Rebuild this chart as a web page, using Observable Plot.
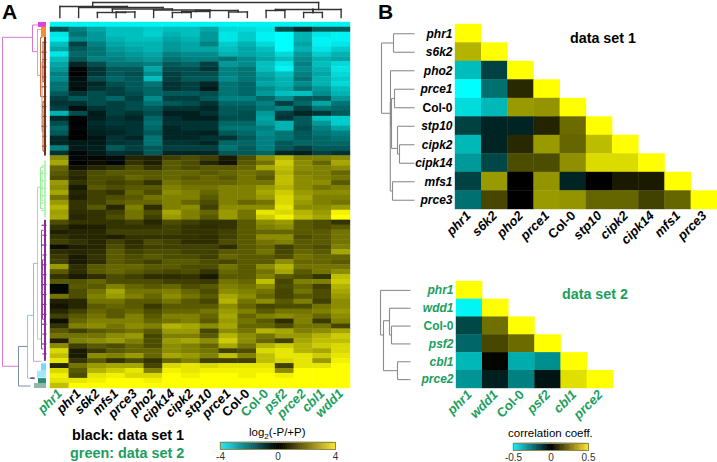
<!DOCTYPE html>
<html><head><meta charset="utf-8">
<script src="https://cdn.jsdelivr.net/npm/d3@7"></script>
<script src="https://cdn.jsdelivr.net/npm/@observablehq/plot@0.6"></script>
<style>
html,body{margin:0;padding:0;background:#fff}
#c{position:relative;width:717px;height:462px;overflow:hidden;font-family:"Liberation Sans",Arial,sans-serif}
.t{position:absolute;white-space:nowrap;font-family:"Liberation Sans",Arial,sans-serif;line-height:1}
.t sub{font-size:.7em;line-height:0}
.soft g[aria-label="cell"]{filter:blur(.55px)}
</style></head><body><div id="c"></div>
<script>
const GREEN="#1b9e5e", DARK="#333";
// ---------- Panel A ----------
const heatLabels=["phr1","phr1","s6k2","mfs1","prce3","pho2","cipk14","cipk2","stp10","prce1","Col-0","Col-0","psf2","prce2","cbl1","wdd1"];
// values are log2(-P/+P) x 10, one array per band of genes, top to bottom
const heatRows=[
[-38,-38,-38,-38,-38,-38,-38,-38,-38,-38,-38,-38,-38,-38,-38,-38],
[-12,-20,-26,-30,-30,-32,-30,-30,-26,-34,-34,-36,-12,-6,-14,-14],
[-36,-18,-24,-30,-30,-33,-28,-30,-24,-36,-32,-38,-40,-28,-36,-38],
[-38,-22,-24,-28,-30,-30,-26,-28,-24,-36,-32,-38,-40,-28,-38,-38],
[-30,-10,-20,-26,-28,-28,-24,-26,-20,-32,-28,-34,-40,-26,-38,-36],
[-26,-14,-18,-24,-26,-28,-24,-26,-26,-30,-26,-30,-40,-28,-36,-32],
[-36,-16,-18,-22,-24,-26,-20,-22,-22,-28,-26,-28,-34,-24,-32,-28],
[-30,-14,-20,-20,-22,-24,-18,-20,-20,-18,-22,-26,-30,-22,-28,-26],
[-26,-6,-12,-18,-18,-20,-14,-16,-10,-24,-22,-30,-36,-20,-30,-34],
[-24,-1,-8,-14,-14,-26,-12,-12,-8,-20,-18,-30,-38,-22,-28,-36],
[-20,0,-8,-14,-12,-22,-10,-12,-12,-20,-18,-26,-30,-20,-26,-34],
[-22,-2,-12,-16,-14,-30,-10,-14,-14,-22,-18,-24,-28,-18,-28,-32],
[-18,-3,-6,-12,-14,-18,-8,-10,-6,-18,-16,-26,-28,-22,-28,-34],
[-18,-2,-8,-10,-14,-16,-8,-10,-4,-18,-16,-22,-26,-18,-24,-30],
[-14,-8,-12,-10,-12,-16,-14,-14,-12,-18,-16,-24,-30,-30,-22,-28],
[-10,-14,-12,-16,-10,-22,-10,-10,-14,-20,-20,-16,-22,-14,-14,-24],
[-8,-8,-12,-10,-12,-18,-14,-12,-8,-16,-16,-20,-10,-16,-26,-18],
[-10,-2,-8,-10,-12,-14,-8,-8,-6,-14,-14,-18,-20,-10,-18,-16],
[-28,-12,-4,-10,-8,-12,-5,-5,-8,-14,-12,-24,-10,-6,-8,-14],
[-6,-1,-5,-8,-6,-16,-7,-5,-5,-12,-12,-26,-8,-14,-30,-32],
[-12,0,-7,-9,-8,-18,-8,-8,-8,-16,-16,-24,-28,-14,-24,-32],
[-16,-1,-6,-7,-8,-16,-6,-8,-8,-18,-18,-20,-28,-12,-20,-26],
[-14,0,-5,-6,-8,-14,-6,-6,-5,-14,-16,-22,-18,-14,-18,-20],
[-6,0,-3,-8,-6,-18,-6,-6,-8,-8,-14,-20,-18,-14,-16,-18],
[-6,-4,-4,-8,-9,-18,-8,-8,-6,-16,-16,-20,-14,-16,-16,-16],
[-20,-4,-5,-14,-10,-14,-10,-10,-10,-18,-14,-20,-14,-10,-14,-14],
[-8,-1,-4,-8,-7,-14,-6,-6,-6,-14,-14,-16,-6,-5,-10,-8],
[22,-1,1,-2,6,5,10,12,10,4,12,22,28,20,20,22],
[26,0,2,-1,8,5,14,12,6,3,14,18,32,22,16,26],
[16,3,6,8,12,8,14,12,14,14,16,26,30,22,20,22],
[14,7,12,14,14,14,16,16,14,16,18,16,28,20,20,16],
[12,6,12,12,16,14,16,14,16,14,18,14,30,22,20,18],
[24,8,12,10,12,8,18,16,16,16,18,18,30,22,22,14],
[22,4,14,12,14,14,20,18,18,20,20,24,28,22,18,20],
[26,6,10,8,16,12,22,20,16,20,20,26,32,24,22,22],
[18,5,10,12,14,18,20,20,14,20,20,24,34,26,20,20],
[24,8,10,14,16,16,20,16,12,20,16,18,34,24,20,18],
[28,8,14,6,20,7,20,22,10,22,22,22,36,22,22,24],
[25,7,8,10,18,12,26,20,16,24,18,36,34,28,24,38],
[26,6,8,12,18,10,24,20,14,24,18,32,38,30,26,40],
[12,8,8,8,10,6,12,10,8,8,14,22,24,14,12,8],
[8,4,5,8,8,8,10,8,7,8,14,20,22,14,12,14],
[5,6,6,10,10,10,10,8,8,10,14,16,16,14,14,18],
[8,6,6,5,8,8,8,8,7,10,14,22,22,12,14,18],
[10,8,6,10,7,12,10,7,7,12,14,18,20,14,14,18],
[2,5,6,12,8,10,10,10,10,7,14,16,10,14,12,20],
[7,6,7,14,10,12,12,10,10,14,14,18,11,16,14,26],
[9,4,8,14,12,14,12,12,10,16,14,14,12,18,16,16],
[10,4,7,14,12,10,14,14,12,11,14,14,22,16,16,14],
[24,7,14,16,16,14,14,12,12,18,14,22,28,18,18,18],
[14,7,14,16,14,12,11,12,8,16,14,18,26,14,18,22],
[8,4,7,12,10,7,7,8,4,14,14,20,14,12,8,30],
[14,13,16,12,12,12,10,10,9,18,16,30,11,20,20,32],
[-1,14,14,20,16,14,16,12,14,20,18,22,12,16,10,28],
[1,12,18,26,18,18,20,16,12,22,20,18,11,18,12,26],
[18,12,20,24,20,16,22,18,14,26,22,16,11,14,12,24],
[5,6,18,18,14,14,18,14,11,28,18,22,14,20,10,22],
[3,6,14,16,14,9,14,14,14,22,16,11,12,12,18,22],
[6,10,16,14,16,12,16,16,18,24,20,14,18,18,20,24],
[10,14,18,14,20,14,20,20,16,26,16,20,22,20,16,22],
[2,16,20,20,20,16,18,20,14,24,18,14,7,20,9,20],
[8,20,22,18,22,20,28,26,22,26,16,16,12,18,18,11],
[14,10,14,16,18,14,24,24,11,22,18,28,26,20,22,26],
[18,18,18,22,24,11,20,20,14,28,22,18,24,24,28,32],
[5,20,22,24,20,12,24,26,22,32,22,16,10,26,30,30],
[22,10,14,12,16,12,22,20,16,26,18,28,32,28,32,34],
[34,4,9,14,16,16,22,20,18,10,12,34,36,28,26,34],
[30,4,22,20,24,16,26,24,20,30,20,30,36,36,32,36],
[36,8,14,8,12,8,16,20,10,10,10,30,34,36,24,38],
[6,18,24,26,26,11,34,36,34,36,36,36,10,36,36,40],
[34,14,28,32,36,20,38,36,38,38,38,38,22,40,40,40],
[38,12,36,38,34,34,40,38,40,40,38,40,38,40,40,40],
[36,36,38,40,40,38,40,40,40,40,40,40,40,40,40,40],
[30,40,40,40,40,40,40,40,40,40,40,40,40,40,40,40]
];
// Clades: [parent distance, child A distance, child A position, child B distance, child B position]
const topClades=[
[15,1.75,11,13.8,8],[11,0,0,3.6,10],[10,1,0,5.5,9],[8.5,2.8,5,6,7.5],[5,2,0,3.5,5.5],[5.5,3,0,4,0],
[7.5,5,0,8,7],[7,7.25,6,9.5,5.5],[6,6.5,5,8,0],[5,6,0,7,0],[5.5,9,0,10,0],
[8,11.5,7,15,0],[8,13.5,5,13.5,5],[5,13,0,14,0],[7,11,0,12,0]];
const leftClades=[
["#d878d0",2,32,3,18,69.5],["#d878d0",32,40,0.5,37,5.9],
["#e8a868",37,42,1.4,40,10.7],["#c07048",40,42,3,41.5,15],["#c89078",41.5,43,8,43,22],["#a0522d",42.5,44,4,44,12],["#a0522d",42.5,44,16,44,26],
["#a8dca8",37,40,33.3,41,64],["#98ee98",40,43,29.3,43,37.6],["#98ee98",41.5,43,30,43,36],
["#9a3fb0",41,43,42,43,66],["#9a3fb0",42,44,48,44,60],["#b9a8c8",33,37,48.7,41,68.5],
["#78d4e4",27,33,59.2,34,71.9],["#7a8ea8",18,27,65.5,30,73.5],["#7a2a90",30,34,71.9,34,71.9]];
const leftBlocks=[
["#e040e0",38,0,46,1],["#f09030",41,1,46,3],["#7c3016",44,3,46,27],["#b4f4b4",44,28,46,39.5],
["#8e2aa0",44,40,46,68.5],["#70dcff",41,69,46,70.5],["#a0e8ff",37,70.5,46,71.9],["#2f8c78",38,72,46,74],["#8fb8a8",34,73,46,74]];
const leftLeaves=[
["#a0522d",[[42,4],[41,6],[42,7.5],[41.5,9],[42,11],[41,13],[42,15],[41.5,17],[42,19],[41,21],[42,23],[41.5,25]]],
["#98ee98",[[41,29],[40,30.5],[41,32],[40.5,33.5],[41,35],[40,36.5],[41,38]]],
["#8e2aa0",[[41,41],[42,43],[41,45],[42,47],[41.5,49],[42,51],[41,53],[42,55],[41.5,57],[42,59],[41,61],[42,63],[41.5,65],[42,67]]]];
const greenIdx=[0,12,13,14,15], greenPlain=[11], blackIdx=[1,2,3,4,5,6,7,8,9], blackPlain=[10];
// ---------- Panel B, data set 1 ----------
const set1=["phr1","s6k2","pho2","prce1","Col-0","stp10","cipk2","cipk14","mfs1","prce3"];
const corr1=[[.5],[.35,.5],[-.37,-.13,.5],[-.5,-.22,.08,.5],[-.43,-.36,.3,.29,.5],
[-.13,-.07,-.07,.07,.21,.5],[-.36,-.07,.08,.3,.2,.37,.5],[-.3,-.14,.15,.15,.28,.43,.43,.5],
[-.13,.3,0,.29,-.07,0,.05,.05,.5],[-.22,.14,0,.3,.29,.2,.2,.13,.2,.5]];
const cladesB1=[[0,12,1,8.8,4.8],[12,33,.5,33,1.5],[8.8,9,4.2,11,9],[9,33,2.5,10,5.5],[10,13,4,16,6.7],[13,33,3.5,33,4.5],[16,33,5.5,18,7],[18,33,6.5,33,7.5],[11,33,8.5,33,9.5]];
// ---------- Panel B, data set 2 ----------
const set2=["phr1","wdd1","Col-0","psf2","cbl1","prce2"];
const corr2=[[.5],[-.48,.5],[-.14,.22,.5],[-.2,.14,.21,.5],[-.36,.01,-.34,-.28,.5],[-.29,-.06,-.25,-.04,.44,.5]];
const cladesB2=[[0,30,.5,3,3],[3,9,2.2,17,5],[9,30,1.5,11,3],[11,30,2.5,30,3.5],[17,30,4.5,30,5.5]];

const c=document.getElementById("c");
const CY="#00ffff",BK="#000000",YE="#ffff00";
const place=(n,x,y)=>{n.style.position="absolute";n.style.left=x+"px";n.style.top=y+"px";n.style.maxWidth="none";n.style.background="transparent";n.style.overflow="visible";c.append(n);};
const text=(html,x,y,css)=>{const d=document.createElement("div");d.className="t";d.innerHTML=html;d.style.cssText+=`left:${x}px;top:${y}px;${css}`;c.append(d);};
const uSegs=cl=>cl.flatMap(([p,a,ra,b,rb])=>[{d1:p,r1:ra,d2:p,r2:rb},{d1:p,r1:ra,d2:a,r2:ra},{d1:p,r1:rb,d2:b,r2:rb}]);
const base={margin:0,marginTop:0,marginRight:0,marginBottom:0,marginLeft:0};

// Heatmap
const heatCells=heatRows.flatMap((r,i)=>r.map((v,j)=>({i,j,v:v/10})));
const axisOpts={tickSize:0,tickPadding:3,tickRotate:-45,fontWeight:"bold",fontSize:13,label:null,tickFormat:i=>heatLabels[i],textAnchor:"end"};
const heat=Plot.plot({...base,width:300,height:366,marginBottom:0,
 style:{fontFamily:"Liberation Sans"},
 x:{type:"band",domain:d3.range(16),padding:0,round:false,axis:null},
 y:{type:"band",domain:d3.range(heatRows.length),padding:0,round:false,axis:null},
 color:{type:"linear",domain:[-4,0,4],range:[CY,BK,YE],clamp:true},
 marks:[
  Plot.cell(heatCells,{x:"j",y:"i",fill:"v",inset:-0.2}),
  Plot.axisX(greenIdx,{...axisOpts,fill:GREEN,fontStyle:"italic"}),
  Plot.axisX(greenPlain,{...axisOpts,fill:GREEN}),
  Plot.axisX(blackIdx,{...axisOpts,fill:"#000",fontStyle:"italic"}),
  Plot.axisX(blackPlain,{...axisOpts,fill:"#000"})
 ]});
heat.classList.add("soft");
place(heat,50,22);

// Top dendrogram
const topSegs=topClades.flatMap(([p,a,ha,b,hb])=>[{x1:a,y1:p,x2:b,y2:p},{x1:a,y1:ha,x2:a,y2:p},{x1:b,y1:hb,x2:b,y2:p}]);
place(Plot.plot({...base,width:300,height:17,
 x:{domain:[-.5,15.5],range:[0,300],axis:null},y:{domain:[0,17],range:[17,0],axis:null},
 marks:[Plot.link(topSegs,{x1:"x1",y1:"y1",x2:"x2",y2:"y2",stroke:DARK,strokeWidth:1.4,strokeLinecap:"square"})]}),50,0);

// Left dendrogram
const leftSegs=leftClades.flatMap(([col,...u])=>uSegs([u]).map(s=>({...s,col})));
const leafSegs=leftLeaves.flatMap(([col,ls])=>ls.map(([d,r])=>({d1:d,r1:r,d2:46,r2:r,col})));
place(Plot.plot({...base,width:48,height:366,
 x:{domain:[0,48],range:[0,48],axis:null},y:{domain:[0,74],range:[0,366],axis:null},
 marks:[
  Plot.link(leftSegs,{x1:"d1",y1:"r1",x2:"d2",y2:"r2",stroke:d=>d.col,strokeWidth:1}),
  Plot.link(leafSegs,{x1:"d1",y1:"r1",x2:"d2",y2:"r2",stroke:d=>d.col,strokeWidth:1.2}),
  Plot.rect(leftBlocks,{x1:d=>d[1],y1:d=>d[2],x2:d=>d[3],y2:d=>d[4],fill:d=>d[0]})
 ]}),0,22);

// Correlation triangle
function tri(names,mat,colColor,w,h,x,y,clades,maxD,dx,dw){
 const cells=mat.flatMap((r,i)=>r.map((v,j)=>({i,j,v})));
 const idx=d3.range(names.length);
 const it=idx.filter(i=>names[i]!=="Col-0"), pl=idx.filter(i=>names[i]==="Col-0");
 const fmt=i=>names[i];
 const ax={tickSize:0,fontWeight:"bold",label:null,tickFormat:fmt,fill:colColor};
 const xo={...ax,fontSize:13,tickRotate:-45,tickPadding:4,textAnchor:"end"};
 const yo={...ax,fontSize:12,tickPadding:3};
 place(Plot.plot({...base,width:w,height:h,
  style:{fontFamily:"Liberation Sans"},
  x:{type:"band",domain:idx,padding:0,round:false,axis:null},y:{type:"band",domain:idx,padding:0,round:false,axis:null},
  color:{type:"linear",domain:[-.5,0,.5],range:[CY,BK,YE],clamp:true},
  marks:[
   Plot.cell(cells,{x:"j",y:"i",fill:"v",inset:-0.2}),
   Plot.axisX(it,{...xo,fontStyle:"italic"}),Plot.axisX(pl,xo),
   Plot.axisY(it,{...yo,fontStyle:"italic"}),Plot.axisY(pl,yo)
  ]}),x,y);
 place(Plot.plot({...base,width:dw,height:h,
  x:{domain:[0,maxD],range:[0,dw],axis:null},y:{domain:[0,names.length],range:[0,h],axis:null},
  marks:[Plot.link(uSegs(clades),{x1:"d1",y1:"r1",x2:"d2",y2:"r2",stroke:"#8c8c8c",strokeWidth:1.1})]}),dx,y);
}
tri(set1,corr1,"#000",262,185,455,24,cladesB1,33,381,33);
tri(set2,corr2,GREEN,157,107,456,281,cladesB2,30,380,30);

// Colour bars
function bar(dom,ticks,x,y,w,fmt){
 const step=(dom[1]-dom[0])/60;
 const steps=d3.range(60).map(i=>dom[0]+i*step);
 place(Plot.plot({...base,width:w,height:7,
  style:{fontFamily:"Liberation Sans",fontSize:"10px"},
  x:{domain:dom,axis:null},
  color:{type:"linear",domain:[dom[0],0,dom[1]],range:["#20e8f8",BK,"#ffe830"]},
  marks:[
   Plot.rect(steps,{x1:d=>d,x2:d=>d+step,fill:d=>d,inset:-0.3}),
   Plot.frame({stroke:"#8a8a50",strokeWidth:1}),
   Plot.axisX(ticks,{tickSize:0,tickPadding:3,label:null,tickFormat:fmt,fontSize:10,fill:"#333"})
  ]}),x,y);
}
bar([-4,4],[-4,0,4],220,442,115,d=>String(d));
bar([-.5,.5],[-.5,0,.5],513,443,75,d=>d===0?"0":String(d));

// Text
text("A",2,1,"font-size:21px;font-weight:bold");
text("B",378,1,"font-size:21px;font-weight:bold");
text("data set 1",570,31,"font-size:14.3px;font-weight:bold");
text("data set 2",562,287,`font-size:14.3px;font-weight:bold;color:${GREEN}`);
text("black: data set 1",72,428,"font-size:14.4px;font-weight:bold");
text("green: data set 2",70,446,`font-size:14.4px;font-weight:bold;color:${GREEN}`);
text("log<sub>2</sub>(-P/+P)",249,427,"font-size:11.5px");
text("correlation coeff.",508,428,"font-size:11.5px");
</script></body></html>
